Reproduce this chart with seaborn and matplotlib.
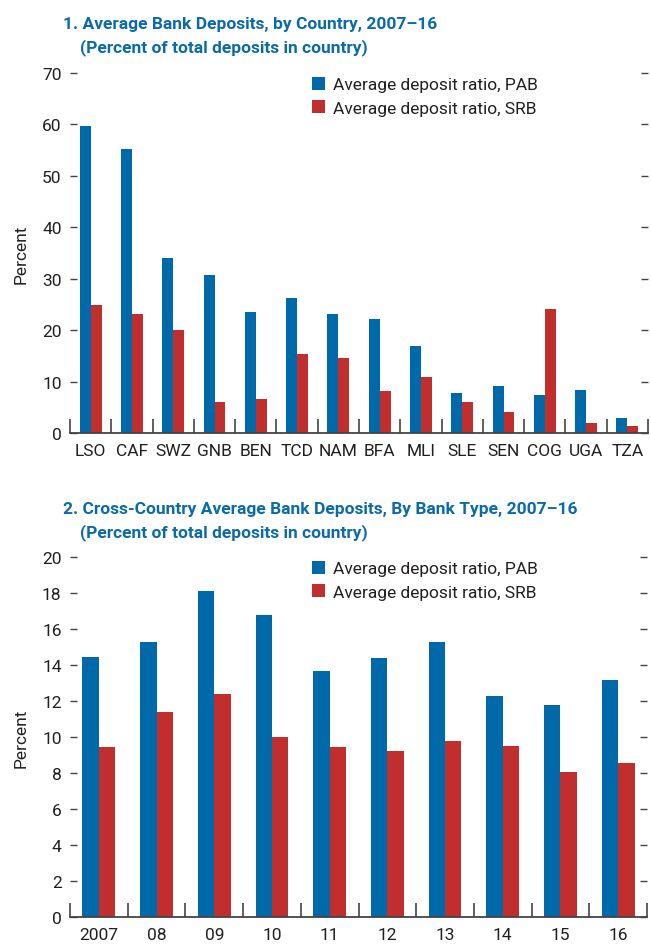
import numpy as np
import pandas as pd

import matplotlib.pyplot as plt
import seaborn as sns

countries = ["LSO", "CAF", "SWZ", "GNB", "BEN", "TCD", "NAM",
             "BFA", "MLI", "SLE", "SEN", "COG", "UGA", "TZA"]
pab_country = [59.6, 55.2, 34.0, 30.7, 23.5, 26.2, 23.1, 22.1, 16.9, 7.8, 9.2, 7.4, 8.4, 2.9]
srb_country = [24.8, 23.1, 20.0, 6.0, 6.7, 15.3, 14.5, 8.2, 10.9, 6.0, 4.1, 24.1, 1.9, 1.3]

years = ["2007", "08", "09", "10", "11", "12", "13", "14", "15", "16"]
pab_year = [14.43, 15.3, 18.1, 16.8, 13.65, 14.38, 15.26, 12.26, 11.76, 13.15]
srb_year = [9.43, 11.37, 12.37, 9.98, 9.43, 9.2, 9.8, 9.48, 8.04, 8.54]

lab_pab = "Average deposit ratio, PAB"
lab_srb = "Average deposit ratio, SRB"

blue = "#0069AA"
red = "#C12E2E"
title_col = "#0B6AA8"
dark = "#231F20"

sns.set_theme(style="white")
plt.rcParams["font.family"] = ["Roboto", "DejaVu Sans"]
plt.rcParams["text.color"] = dark
plt.rcParams["axes.labelcolor"] = dark
plt.rcParams["xtick.color"] = dark
plt.rcParams["ytick.color"] = dark

W, H = 651, 945
fig = plt.figure(figsize=(W / 100, H / 100), dpi=100)
ax1 = fig.add_axes([70 / W, 1 - 434 / H, 578 / W, 360 / H])
ax2 = fig.add_axes([70 / W, 1 - 918 / H, 577 / W, 360 / H])


def draw(ax, cats, pab, srb, ymax, step, width, leg_top):
    n = len(cats)
    df = pd.DataFrame({
        "cat": cats * 2,
        "val": pab + srb,
        "series": [lab_pab] * n + [lab_srb] * n,
    })
    sns.barplot(data=df, x="cat", y="val", hue="series", palette=[blue, red],
                width=width, gap=0, saturation=1, linewidth=0, ax=ax, legend=True)
    ax.set_xlim(-0.5, n - 0.5)
    ax.set_ylim(0, ymax)
    ax.set_yticks(np.arange(0, ymax + 0.1, step))
    ax.set_xticks(range(n))
    ax.set_xticklabels(cats)
    ax.set_xticks(np.arange(-0.5, n), minor=True)
    ax.tick_params(axis="x", which="major", length=0, pad=7, labelsize=12.5)
    ax.tick_params(axis="x", which="minor", direction="in", length=10,
                   width=1.2, color="#444", bottom=True)
    ax.tick_params(axis="y", which="major", direction="in", length=5, width=1,
                   left=True, right=True, color="#444", pad=6, labelsize=12.5)
    for s in ["left", "right", "top"]:
        ax.spines[s].set_visible(False)
    ax.spines["bottom"].set_color("#444")
    ax.spines["bottom"].set_linewidth(1.3)
    ax.set_xlabel("")
    ax.set_ylabel("Percent", fontsize=12.5, labelpad=10)
    handles, labels = ax.get_legend_handles_labels()
    ax.legend(handles, labels, loc="upper left",
              bbox_to_anchor=(312 / W, 1 - leg_top / H), bbox_transform=fig.transFigure,
              frameon=False, borderpad=0, borderaxespad=0, fontsize=12.5,
              handlelength=0.75, handleheight=0.75, handletextpad=0.45,
              labelspacing=0.45)


draw(ax1, countries, pab_country, srb_country, 70, 10, 0.53, 78)
draw(ax2, years, pab_year, srb_year, 20, 2, 0.57, 562)

fig.text(63 / W, 1 - 25 / H, "1. Average Bank Deposits, by Country, 2007\u201316",
         color=title_col, fontsize=12.5, fontweight="bold", va="center")
fig.text(80 / W, 1 - 48 / H, "(Percent of total deposits in country)",
         color=title_col, fontsize=12.5, fontweight="bold", va="center")
fig.text(63 / W, 1 - 510 / H, "2. Cross-Country Average Bank Deposits, By Bank Type, 2007\u201316",
         color=title_col, fontsize=12.5, fontweight="bold", va="center")
fig.text(80 / W, 1 - 533 / H, "(Percent of total deposits in country)",
         color=title_col, fontsize=12.5, fontweight="bold", va="center")

fig.savefig("out.png", dpi=100)
